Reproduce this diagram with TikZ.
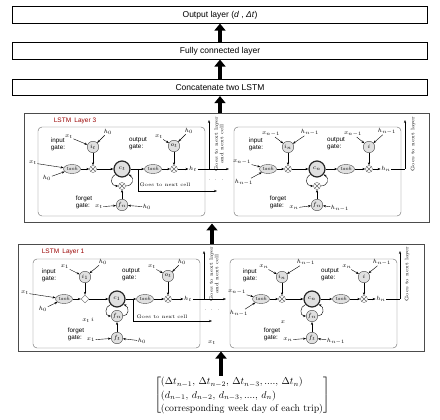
\documentclass[tikz,border=0pt]{standalone}
\usepackage{fontspec}
\setsansfont{Liberation Sans}
\usetikzlibrary{arrows.meta,shapes.geometric}

\begin{document}
\begin{tikzpicture}[x=1pt,y=-1pt,
    topbox/.style={draw, line width=0.7pt, minimum width=415pt, minimum height=16.5pt, inner sep=0, font=\sffamily\fontsize{8.5}{10}\selectfont},
    layerbox/.style={draw=black!70, line width=1pt, inner sep=0},
    title/.style={text=red!60!black, font=\sffamily\fontsize{6.5}{7}\selectfont, inner sep=0},
    cellbox/.style={draw=black!60, rounded corners=4pt, minimum width=167pt, minimum height=89pt, inner sep=0},
    lbl/.style={font=\sffamily\fontsize{6.3}{6.8}\selectfont, align=left, inner sep=0},
    var/.style={font=\fontsize{6.5}{7}\selectfont, inner sep=0.5pt},
    gatec/.style={circle, draw=black!70, fill=black!12, minimum size=11.5pt, inner sep=0, font=\fontsize{6.5}{7}\selectfont},
    cellc/.style={circle, draw=black!85, line width=1.2pt, fill=black!12, minimum size=16pt, inner sep=0, font=\fontsize{6.5}{7}\selectfont},
    act/.style={ellipse, draw=black!70, fill=black!12, minimum width=17pt, minimum height=9pt, inner sep=0, font=\itshape\fontsize{5}{6}\selectfont},
    mult/.style={circle, draw=black!60, minimum size=7pt, inner sep=0, path picture={\draw[black!60] (path picture bounding box.north west) -- (path picture bounding box.south east) (path picture bounding box.north east) -- (path picture bounding box.south west);}},
    multd/.style={diamond, draw=black!60, minimum size=8pt, inner sep=0},
    note/.style={font=\fontsize{5}{5.5}\selectfont, inner sep=0},
    sarrow/.style={-{Stealth[length=3pt,width=2.2pt]}, line width=0.4pt},
    fat/.style={line width=3.5pt, -{Triangle[width=11pt,length=7pt]}}]
    \useasboundingbox (0,0) rectangle (440,420);

    % top layers
    \node[topbox] (outl) at (220,15) {Output layer (\textit{d} , \textit{Δt})};
    \node[topbox] (fcl) at (220,51) {Fully connected layer};
    \node[topbox] (concat) at (220,87.5) {Concatenate two LSTM};
    \draw[fat] (fcl.north) -- (outl.south);
    \draw[fat] (concat.north) -- (fcl.south);

    % LSTM layer 3
    \node[layerbox, minimum width=405pt, minimum height=109pt] (l3) at (226.5,168.5) {};
    \node[title] (l3t) at (75,121) {LSTM\enspace Layer 3};
    \draw[fat] (l3.north -| concat.south) -- (concat.south);

    \begin{scope}[shift={(38,127)}]
        \node[cellbox] (tl) at (83.5,44.5) {};
        \node[lbl] (tl-inl) at (20,17) {input\\gate:};
        \node[lbl] (tl-outl) at (100,17) {output\\gate:};
        \node[lbl] (tl-fl) at (46,75) {forget\\gate:};
        \node[var] (tl-ix) at (31,10) {$x_t$};
        \node[var] (tl-ih) at (70,5) {$h_0$};
        \node[gatec] (tl-i) at (55,20) {$i_t$};
        \node[var] (tl-ox) at (121,10) {$x_t$};
        \node[var] (tl-oh) at (151,4) {$h_0$};
        \node[gatec] (tl-o) at (136,19) {$o_t$};
        \node[var] (tl-x) at (-5,36) {$x_t$};
        \node[var] (tl-h) at (9,51) {$h_0$};
        \node[act] (tl-t1) at (34,42) {tanh};
        \node[mult] (tl-m1) at (55,42) {};
        \node[cellc] (tl-c) at (84,42) {$c_t$};
        \node[act] (tl-t2) at (115,42) {tanh};
        \node[mult] (tl-m2) at (136,42) {};
        \node[var] (tl-ht) at (155,42) {$h_t$};
        \node[mult] (tl-m3) at (84,59) {};
        \node[gatec] (tl-f) at (84,78) {$f_n$};
        \node[var] (tl-fx) at (61,80) {$x_t$};
        \node[var] (tl-fh) at (109,80) {$h_0$};
        \node[note] (tl-nc) at (127,58) {Goes to next cell};
        \node[note, rotate=90, align=center] (tl-nl) at (181,17) {Goes to next layer\\and next cell};
        \node[note] (tl-dots) at (178,53) {.\ \ .\ \ .};
        \coordinate (tl-br) at (100,42);
        \coordinate (tl-ne) at (179,64);
        \coordinate (tl-up) at (171,42);
        \coordinate (tl-top) at (171,-7);
        \coordinate (tl-hn) at (191,42);

        \draw[sarrow] (tl-ix) -- (tl-i);
        \draw[sarrow] (tl-ih) -- (tl-i);
        \draw[sarrow] (tl-i) -- (tl-m1);
        \draw[sarrow] (tl-x) -- (tl-t1);
        \draw[sarrow] (tl-h) -- (tl-t1);
        \draw[sarrow] (tl-t1) -- (tl-m1);
        \draw[sarrow] (tl-m1) -- (tl-c);
        \draw[sarrow] (tl-c) -- (tl-t2);
        \draw[sarrow] (tl-t2) -- (tl-m2);
        \draw[sarrow] (tl-ox) -- (tl-o);
        \draw[sarrow] (tl-oh) -- (tl-o);
        \draw[sarrow] (tl-o) -- (tl-m2);
        \draw[sarrow] (tl-m2) -- (tl-ht);
        \draw[sarrow] (tl-fx) -- (tl-f);
        \draw[sarrow] (tl-fh) -- (tl-f);
        \draw[sarrow] (tl-f) -- (tl-m3);
        \draw[sarrow] (tl-c.220) to[out=210,in=180,looseness=1.6] (tl-m3.west);
        \draw[sarrow] (tl-m3.east) to[out=0,in=-30,looseness=1.6] (tl-c.-40);
        \draw[sarrow] (tl-br) |- (tl-ne);
        \draw (tl-ht) -- (tl-up);
        \draw[sarrow] (tl-up) -- (tl-top);
        \draw[sarrow] (tl-up) -- (tl-hn);
    \end{scope}

    \begin{scope}[shift={(234,127)}]
        \node[cellbox] (tr) at (83.5,44.5) {};
        \node[lbl] (tr-inl) at (22,17) {input\\gate:};
        \node[lbl] (tr-outl) at (102,17) {output\\gate:};
        \node[lbl] (tr-fl) at (44,75) {forget\\gate:};
        \node[var] (tr-ix) at (37,7) {$x_{n-1}$};
        \node[var] (tr-ih) at (76,5) {$h_{n-1}$};
        \node[gatec] (tr-i) at (54,20) {$i_n$};
        \node[var] (tr-ox) at (119,7) {$x_{n-1}$};
        \node[var] (tr-oh) at (153,4) {$h_{n-1}$};
        \node[gatec] (tr-o) at (135,20) {$i$};
        \node[var] (tr-x) at (8,35) {$x_{n-1}$};
        \node[var] (tr-h) at (10,55) {$h_{n-1}$};
        \node[act] (tr-t1) at (34,42) {tanh};
        \node[mult] (tr-m1) at (54,42) {};
        \node[cellc] (tr-c) at (83,42) {$c_n$};
        \node[act] (tr-t2) at (112,42) {tanh};
        \node[mult] (tr-m2) at (135,42) {};
        \node[var] (tr-ht) at (152,42) {$h_n$};
        \node[mult] (tr-m3) at (83,59) {};
        \node[gatec] (tr-f) at (83,78) {$f_n$};
        \node[var] (tr-fx) at (60,81) {$x_n$};
        \node[var] (tr-fh) at (106,81) {$h_{n-1}$};
        \node[note, rotate=90] (tr-nl) at (179,17) {Goes to next layer};
        \coordinate (tr-up) at (171,42);
        \coordinate (tr-top) at (171,-7);

        \draw[sarrow] (tr-ix) -- (tr-i);
        \draw[sarrow] (tr-ih) -- (tr-i);
        \draw[sarrow] (tr-i) -- (tr-m1);
        \draw[sarrow] (tr-x) -- (tr-t1);
        \draw[sarrow] (tr-h) -- (tr-t1);
        \draw[sarrow] (tr-t1) -- (tr-m1);
        \draw[sarrow] (tr-m1) -- (tr-c);
        \draw[sarrow] (tr-c) -- (tr-t2);
        \draw[sarrow] (tr-t2) -- (tr-m2);
        \draw[sarrow] (tr-ox) -- (tr-o);
        \draw[sarrow] (tr-oh) -- (tr-o);
        \draw[sarrow] (tr-o) -- (tr-m2);
        \draw[sarrow] (tr-m2) -- (tr-ht);
        \draw[sarrow] (tr-fx) -- (tr-f);
        \draw[sarrow] (tr-fh) -- (tr-f);
        \draw[sarrow] (tr-f) -- (tr-m3);
        \draw[sarrow] (tr-c.220) to[out=210,in=180,looseness=1.6] (tr-m3.west);
        \draw[sarrow] (tr-m3.east) to[out=0,in=-30,looseness=1.6] (tr-c.-40);
        \draw (tr-ht) -- (tr-up);
        \draw[sarrow] (tr-up) -- (tr-top);
    \end{scope}

    % LSTM layer 1
    \node[layerbox, minimum width=406pt, minimum height=107pt] (l1) at (221,297.5) {};
    \node[title] (l1t) at (63,252) {LSTM\enspace Layer 1};
    \draw[fat] ([xshift=-14.5pt]l3.south |- l1.north) -- ([xshift=-14.5pt]l3.south);

    \begin{scope}[shift={(33,259)}]
        \node[cellbox] (bl) at (83.5,44.5) {};
        \node[lbl] (bl-inl) at (16,16) {input\\gate:};
        \node[lbl] (bl-outl) at (98,16) {output\\gate:};
        \node[lbl] (bl-fl) at (43,75) {forget\\gate:};
        \node[var] (bl-ix) at (32,8) {$x_1$};
        \node[var] (bl-ih) at (70,3) {$h_0$};
        \node[gatec] (bl-i) at (52,18) {$i_1$};
        \node[var] (bl-ox) at (119,8) {$x_t$};
        \node[var] (bl-oh) at (149,3) {$h_0$};
        \node[gatec] (bl-o) at (135,17) {$o_t$};
        \node[var] (bl-x) at (-8,34) {$x_t$};
        \node[var] (bl-h) at (10,50) {$h_0$};
        \node[act] (bl-t1) at (31,40) {tanh};
        \node[multd] (bl-m1) at (52,40) {};
        \node[cellc] (bl-c) at (84,40) {$c_1$};
        \node[act] (bl-t2) at (112,40) {tanh};
        \node[mult] (bl-m2) at (135,40) {};
        \node[var] (bl-ht) at (155,40) {$h_t$};
        \node[gatec] (bl-m3) at (84,57) {$f_n$};
        \node[gatec] (bl-f) at (84,79) {$f_t$};
        \node[var] (bl-fx) at (58,81) {$x_1$};
        \node[var] (bl-fh) at (109,82) {$h_0$};
        \node[var] (bl-s1) at (55,61) {$x_t\,i$};
        \node[var] (bl-s2) at (179,84) {$x_t$};
        \node[note] (bl-nc) at (129,58) {Goes to next cell};
        \node[note, rotate=90, align=center] (bl-nl) at (181,15) {Goes to next layer\\and next cell};
        \node[note] (bl-dots) at (179,51) {.\ \ .\ \ .};
        \coordinate (bl-br) at (100,40);
        \coordinate (bl-ne) at (179,62);
        \coordinate (bl-up) at (171,40);
        \coordinate (bl-top) at (171,-8);
        \coordinate (bl-hn) at (193,40);

        \draw[sarrow] (bl-ix) -- (bl-i);
        \draw[sarrow] (bl-ih) -- (bl-i);
        \draw[sarrow] (bl-i) -- (bl-m1);
        \draw[sarrow] (bl-x) -- (bl-t1);
        \draw[sarrow] (bl-h) -- (bl-t1);
        \draw[sarrow] (bl-t1) -- (bl-m1);
        \draw[sarrow] (bl-m1) -- (bl-c);
        \draw[sarrow] (bl-c) -- (bl-t2);
        \draw[sarrow] (bl-t2) -- (bl-m2);
        \draw[sarrow] (bl-ox) -- (bl-o);
        \draw[sarrow] (bl-oh) -- (bl-o);
        \draw[sarrow] (bl-o) -- (bl-m2);
        \draw[sarrow] (bl-m2) -- (bl-ht);
        \draw[sarrow] (bl-fx) -- (bl-f);
        \draw[sarrow] (bl-fh) -- (bl-f);
        \draw[sarrow] (bl-f) -- (bl-m3);
        \draw[sarrow] (bl-c.220) to[out=200,in=180,looseness=1.4] (bl-m3.west);
        \draw[sarrow] (bl-m3.east) to[out=0,in=-20,looseness=1.4] (bl-c.-40);
        \draw[sarrow] (bl-br) |- (bl-ne);
        \draw (bl-ht) -- (bl-up);
        \draw[sarrow] (bl-up) -- (bl-top);
        \draw[sarrow] (bl-up) -- (bl-hn);
    \end{scope}

    \begin{scope}[shift={(230,259)}]
        \node[cellbox] (br) at (83.5,44.5) {};
        \node[lbl] (br-inl) at (20,16) {input\\gate:};
        \node[lbl] (br-outl) at (100,16) {output\\gate:};
        \node[lbl] (br-fl) at (42,75) {forget\\gate:};
        \node[var] (br-ix) at (34,8) {$x_n$};
        \node[var] (br-ih) at (76,3) {$h_{n-1}$};
        \node[gatec] (br-i) at (52,18) {$i_n$};
        \node[var] (br-ox) at (117,8) {$x_n$};
        \node[var] (br-oh) at (152,3) {$h_{n-1}$};
        \node[gatec] (br-o) at (134,18) {$i$};
        \node[var] (br-x) at (7,33) {$x_{n-1}$};
        \node[var] (br-h) at (9,54) {$h_{n-1}$};
        \node[act] (br-t1) at (31,40) {tanh};
        \node[mult] (br-m1) at (52,40) {};
        \node[cellc] (br-c) at (82,40) {$c_n$};
        \node[act] (br-t2) at (111,40) {tanh};
        \node[mult] (br-m2) at (134,40) {};
        \node[var] (br-ht) at (151,40) {$h_n$};
        \node[gatec] (br-m3) at (82,57) {$f_n$};
        \node[gatec] (br-f) at (82,79) {$f_t$};
        \node[var] (br-fx) at (58,81) {$x_n$};
        \node[var] (br-fh) at (106,82) {$h_{n-1}$};
        \node[var] (br-s1) at (53,63) {$x$};
        \node[note, rotate=90] (br-nl) at (177,15) {Goes to next layer};
        \coordinate (br-up) at (170,40);
        \coordinate (br-top) at (170,-8);

        \draw[sarrow] (br-ix) -- (br-i);
        \draw[sarrow] (br-ih) -- (br-i);
        \draw[sarrow] (br-i) -- (br-m1);
        \draw[sarrow] (br-x) -- (br-t1);
        \draw[sarrow] (br-h) -- (br-t1);
        \draw[sarrow] (br-t1) -- (br-m1);
        \draw[sarrow] (br-m1) -- (br-c);
        \draw[sarrow] (br-c) -- (br-t2);
        \draw[sarrow] (br-t2) -- (br-m2);
        \draw[sarrow] (br-ox) -- (br-o);
        \draw[sarrow] (br-oh) -- (br-o);
        \draw[sarrow] (br-o) -- (br-m2);
        \draw[sarrow] (br-m2) -- (br-ht);
        \draw[sarrow] (br-fx) -- (br-f);
        \draw[sarrow] (br-fh) -- (br-f);
        \draw[sarrow] (br-f) -- (br-m3);
        \draw[sarrow] (br-c.220) to[out=200,in=180,looseness=1.4] (br-m3.west);
        \draw[sarrow] (br-m3.east) to[out=0,in=-20,looseness=1.4] (br-c.-40);
        \draw (br-ht) -- (br-up);
        \draw[sarrow] (br-up) -- (br-top);
    \end{scope}

    % input sequence
    \node[inner sep=0, font=\fontsize{9.8}{12}\selectfont] (inp) at (242,395.5) {\renewcommand{\arraystretch}{1.1}$\left[\begin{array}{@{}l@{}}
        (\Delta t_{n-1},\, \Delta t_{n-2},\, \Delta t_{n-3},....,\, \Delta t_n)\\
        (d_{n-1},\, d_{n-2},\, d_{n-3},....,\, d_n)\\
        \mbox{(corresponding week day of each trip)}
    \end{array}\right]$};
    \draw[fat] (inp.north -| l1.south) -- (l1.south);
\end{tikzpicture}
\end{document}
